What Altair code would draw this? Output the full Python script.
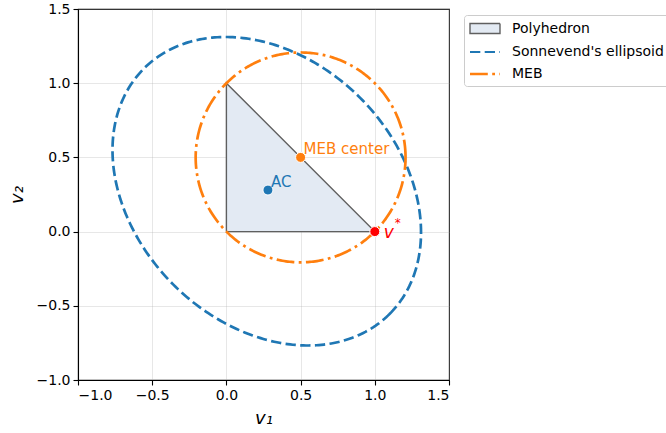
import altair as alt
import pandas as pd
import numpy as np

# ---- data ----
poly_x = [0.0, 1.0, 0.0]
poly_y = [0.0, 0.0, 1.0]

# Sonnevend's ellipsoid: centre, semi-axes, tilt (deg)
ell_center = (0.272, 0.272)
ell_axes = (1.17, 0.89)
ell_angle = -45.0

# Minimum enclosing ball
meb_center = (0.5, 0.5)
meb_radius = 0.7071

pt_names = ["AC", "MEB center", "v*"]
pt_x = [0.28, 0.5, 1.0]
pt_y = [0.28, 0.5, 0.0]
pt_colors = ["#1f77b4", "#ff7f0e", "#ff0000"]

series = ["Polyhedron", "Sonnevend's ellipsoid", "MEB"]
series_stroke = ["#5f5f5f", "#1f77b4", "#ff7f0e"]
series_fill = ["#e3eaf3", "transparent", "transparent"]
series_dash = [[1, 0], [10.3, 4.4], [17.8, 4.4, 2.8, 4.4]]
series_width = [1.4, 2.7, 2.7]
series_shape = ["M-2,-0.67H2V0.67H-2Z", "M-2,0H2", "M-2,0H2"]

ticks = [-1.0, -0.5, 0.0, 0.5, 1.0, 1.5]

# ---- tables ----
fill_df = pd.DataFrame({"x": [poly_x[0], poly_x[1]], "y": [poly_y[2], poly_y[1]], "y2": [0.0, 0.0]})
edge_df = pd.DataFrame({"x": poly_x + [poly_x[0]], "y": poly_y + [poly_y[0]],
                        "o": list(range(len(poly_x) + 1))})
th = np.linspace(0, 2 * np.pi, 361)
phi = np.deg2rad(ell_angle)
ex = ell_axes[0] * np.cos(th)
ey = ell_axes[1] * np.sin(th)
ell_df = pd.DataFrame({"x": ell_center[0] + ex * np.cos(phi) - ey * np.sin(phi),
                       "y": ell_center[1] + ex * np.sin(phi) + ey * np.cos(phi),
                       "o": np.arange(len(th))})
meb_df = pd.DataFrame({"x": meb_center[0] + meb_radius * np.cos(th),
                       "y": meb_center[1] + meb_radius * np.sin(th),
                       "o": np.arange(len(th))})
pts_df = pd.DataFrame({"name": pt_names, "x": pt_x, "y": pt_y})
leg_df = pd.DataFrame({"series": series, "x": [None] * 3, "y": [None] * 3})

xs = alt.Scale(domain=[-1, 1.5], nice=False, zero=False)
ys = alt.Scale(domain=[-1, 1.5], nice=False, zero=False)
X = alt.X("x:Q", scale=xs, axis=alt.Axis(values=ticks, format=".1f", title="v₁"))
Y = alt.Y("y:Q", scale=ys, axis=alt.Axis(values=ticks, format=".1f", title="v₂"))

leg = alt.Legend(title=None, orient="none", legendX=386, legendY=6, padding=5,
                 symbolSize=225, symbolOffset=7, labelOffset=18, rowPadding=6,
                 labelFontSize=14, strokeColor="#cccccc", cornerRadius=3, fillColor="white")

area = alt.Chart(fill_df).mark_area(color="#e3eaf3", opacity=1).encode(x=X, y=Y, y2="y2:Q")
edge = alt.Chart(edge_df).mark_line(stroke=series_stroke[0], strokeWidth=1.4).encode(
    x=X, y=Y, order="o:Q")
ell = alt.Chart(ell_df).mark_line(stroke=series_stroke[1], strokeWidth=series_width[1],
                                  strokeDash=series_dash[1]).encode(x=X, y=Y, order="o:Q")
meb = alt.Chart(meb_df).mark_line(stroke=series_stroke[2], strokeWidth=series_width[2],
                                  strokeDash=series_dash[2]).encode(x=X, y=Y, order="o:Q")

legend_layer = alt.Chart(leg_df).mark_point(filled=False, opacity=1).encode(
    x=X, y=Y,
    shape=alt.Shape("series:N", scale=alt.Scale(domain=series, range=series_shape), legend=leg),
    fill=alt.Fill("series:N", scale=alt.Scale(domain=series, range=series_fill), legend=leg),
    stroke=alt.Stroke("series:N", scale=alt.Scale(domain=series, range=series_stroke), legend=leg),
    strokeDash=alt.StrokeDash("series:N", scale=alt.Scale(domain=series, range=series_dash), legend=leg),
    strokeWidth=alt.StrokeWidth("series:N", scale=alt.Scale(domain=series, range=series_width), legend=leg),
)

cscale = alt.Scale(domain=pt_names, range=pt_colors)
pts = alt.Chart(pts_df).mark_circle(size=100, opacity=1, stroke="white", strokeWidth=1).encode(
    x=X, y=Y, color=alt.Color("name:N", scale=cscale, legend=None))
lab = alt.Chart(pts_df).transform_filter(alt.datum.name != "v*").mark_text(
    align="left", baseline="alphabetic", dx=3, dy=-3, fontSize=15).encode(
    x=X, y=Y, text="name:N", color=alt.Color("name:N", scale=cscale, legend=None))
vlab = alt.Chart(pts_df).transform_filter(alt.datum.name == "v*").mark_text(
    align="left", baseline="middle", dx=9, dy=1, fontSize=17, fontStyle="italic", text="v").encode(
    x=X, y=Y, color=alt.Color("name:N", scale=cscale, legend=None))
slab = alt.Chart(pts_df).transform_filter(alt.datum.name == "v*").mark_text(
    align="left", baseline="middle", dx=20, dy=-9, fontSize=12, text="*").encode(
    x=X, y=Y, color=alt.Color("name:N", scale=cscale, legend=None))

chart = alt.layer(area, edge, ell, meb, legend_layer, pts, lab, vlab, slab).properties(
    width=371, height=371,
    autosize=alt.AutoSizeParams(type="none"),
    padding={"left": 78, "top": 9, "right": 217, "bottom": 53},
).configure(font="DejaVu Sans").configure_view(stroke="black", strokeWidth=1.1).configure_axis(
    domainColor="black", domainWidth=1.1, tickColor="black", tickWidth=1.1, tickSize=5,
    labelColor="black", labelFontSize=14, labelPadding=3,
    gridColor="#b0b0b0", gridOpacity=0.3, gridWidth=1,
    titleFontSize=18, titleFontWeight="normal", titleFontStyle="italic", titleColor="black",
).configure_axisX(titlePadding=7).configure_axisY(titlePadding=10, titleAngle=-90)

chart.save("out.html", embed_options={"renderer": "svg", "actions": False})
